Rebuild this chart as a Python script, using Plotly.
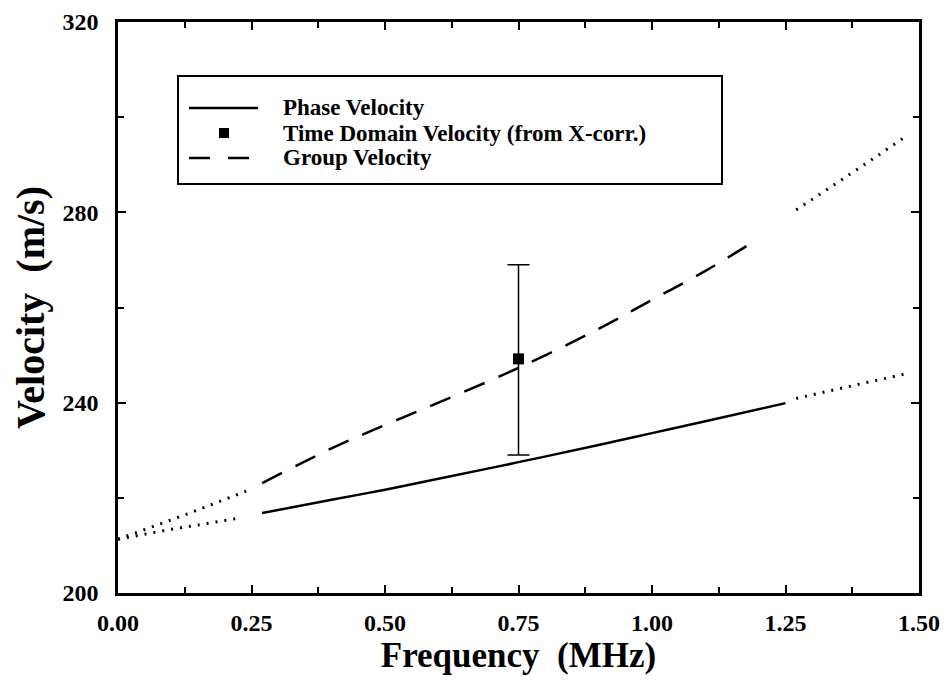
import plotly.graph_objects as go

FONT = "'Liberation Serif', 'Times New Roman', Times, serif"

# Phase velocity (solid part + dotted extrapolations)
phase_x = [0.27, 0.40, 0.50, 0.60, 0.75, 0.90, 1.00, 1.10, 1.25]
phase_y = [216.8, 219.6, 221.7, 224.0, 227.5, 231.1, 233.6, 236.1, 239.9]
phase_lo_x = [0.00, 0.05, 0.10, 0.15, 0.22]
phase_lo_y = [211.3, 212.4, 213.4, 214.3, 215.6]
phase_hi_x = [1.27, 1.35, 1.42, 1.48]
phase_hi_y = [240.9, 242.9, 244.6, 246.2]

# Group velocity (dashed part + dotted extrapolations)
group_x = [0.27, 0.40, 0.50, 0.60, 0.75, 0.90, 1.00, 1.10, 1.19]
group_y = [223.1, 230.4, 235.3, 240.0, 247.3, 255.5, 261.6, 267.7, 273.8]
group_lo_x = [0.00, 0.06, 0.12, 0.18, 0.24]
group_lo_y = [211.3, 213.7, 216.2, 218.8, 221.4]
group_hi_x = [1.27, 1.33, 1.40, 1.48]
group_hi_y = [280.5, 284.9, 290.2, 296.3]

# Time domain velocity (from cross-correlation)
td_x = [0.75]
td_y = [249.2]
td_err_plus = [19.8]
td_err_minus = [20.2]

x_ticks = [0.0, 0.25, 0.5, 0.75, 1.0, 1.25, 1.5]
x_tick_text = ["0.00", "0.25", "0.50", "0.75", "1.00", "1.25", "1.50"]
y_ticks = [200, 240, 280, 320]
y_tick_text = ["200", "240", "280", "320"]

legend_labels = ["Phase Velocity", "Time Domain Velocity (from X-corr.)", "Group Velocity"]

fig = go.Figure()

dot_style = dict(color="black", width=3, dash="2px,7px")

fig.add_trace(go.Scatter(x=phase_x, y=phase_y, mode="lines", name=legend_labels[0],
                         line=dict(color="black", width=2.5, shape="spline"),
                         showlegend=False))
fig.add_trace(go.Scatter(x=td_x, y=td_y, mode="markers", name=legend_labels[1],
                         marker=dict(symbol="square", size=11, color="black"),
                         error_y=dict(type="data", symmetric=False, array=td_err_plus,
                                      arrayminus=td_err_minus, color="black",
                                      thickness=1.5, width=11),
                         showlegend=False))
fig.add_trace(go.Scatter(x=group_x, y=group_y, mode="lines", name=legend_labels[2],
                         line=dict(color="black", width=2.5, dash="22px,15px", shape="spline"),
                         showlegend=False))

for xs, ys in [(phase_lo_x, phase_lo_y), (phase_hi_x, phase_hi_y),
               (group_lo_x, group_lo_y), (group_hi_x, group_hi_y)]:
    fig.add_trace(go.Scatter(x=xs, y=ys, mode="lines", showlegend=False,
                             line=dot_style, hoverinfo="skip"))

axis_common = dict(
    showline=True, linecolor="black", linewidth=2.5, mirror="ticks",
    ticks="inside", ticklen=8, tickwidth=1.5, tickcolor="black",
    showgrid=False, zeroline=False, automargin=False,
    tickfont=dict(family=FONT, size=24, color="black"),
)

fig.update_xaxes(
    range=[0, 1.5], tickvals=x_ticks, ticktext=["<b>%s</b>" % t for t in x_tick_text],
    minor=dict(ticks="inside", ticklen=6, tickwidth=1.5, tickcolor="black", dtick=0.125, tick0=0),
    title=dict(text="<b>Frequency&nbsp;&nbsp;(MHz)</b>", standoff=8,
               font=dict(family=FONT, size=35, color="black")),
    ticklabelstandoff=6,
    **axis_common)
fig.update_yaxes(
    range=[200, 320], tickvals=y_ticks, ticktext=["<b>%s</b>" % t for t in y_tick_text],
    minor=dict(ticks="inside", ticklen=6, tickwidth=1.5, tickcolor="black", dtick=20, tick0=200),
    title=dict(text="<b>Velocity&nbsp;&nbsp;(m/s)</b>", standoff=8,
               font=dict(family=FONT, size=40, color="black")),
    ticklabelstandoff=12,
    **axis_common)

# ---- legend box drawn in paper coordinates ----
W, H = 942, 679
L, R, T, B = 110, 31, 14, 94
pw, ph = W - L - R, H - T - B


def px(xpix):  # window pixel -> paper x
    return (xpix - 8 - L) / pw


def py(ypix):  # window pixel -> paper y
    return (H - B + 8 - ypix) / ph


fig.add_shape(type="rect", xref="paper", yref="paper",
              x0=px(178), x1=px(722), y0=py(184), y1=py(76),
              line=dict(color="black", width=2), fillcolor="white", layer="below")

row_y = [108, 133, 158]
# keys
fig.add_shape(type="line", xref="paper", yref="paper", x0=px(189), x1=px(258),
              y0=py(row_y[0]), y1=py(row_y[0]), line=dict(color="black", width=2.5))
fig.add_shape(type="rect", xref="paper", yref="paper", x0=px(219), x1=px(229),
              y0=py(row_y[1] + 5), y1=py(row_y[1] - 5), line=dict(width=0), fillcolor="black")
fig.add_shape(type="line", xref="paper", yref="paper", x0=px(189), x1=px(210),
              y0=py(row_y[2]), y1=py(row_y[2]), line=dict(color="black", width=2.5))
fig.add_shape(type="line", xref="paper", yref="paper", x0=px(228), x1=px(249),
              y0=py(row_y[2]), y1=py(row_y[2]), line=dict(color="black", width=2.5))
for lab, ry in zip(legend_labels, row_y):
    fig.add_annotation(text="<b>%s</b>" % lab, xref="paper", yref="paper", x=px(281), y=py(ry),
                       xanchor="left", yanchor="middle", showarrow=False,
                       font=dict(family=FONT, size=23, color="black"))

fig.update_layout(
    width=W, height=H,
    margin=dict(l=L, r=R, t=T, b=B, autoexpand=False),
    paper_bgcolor="white", plot_bgcolor="white",
    font=dict(family=FONT, color="black"),
    showlegend=False,
)

fig.write_html("out.html")
